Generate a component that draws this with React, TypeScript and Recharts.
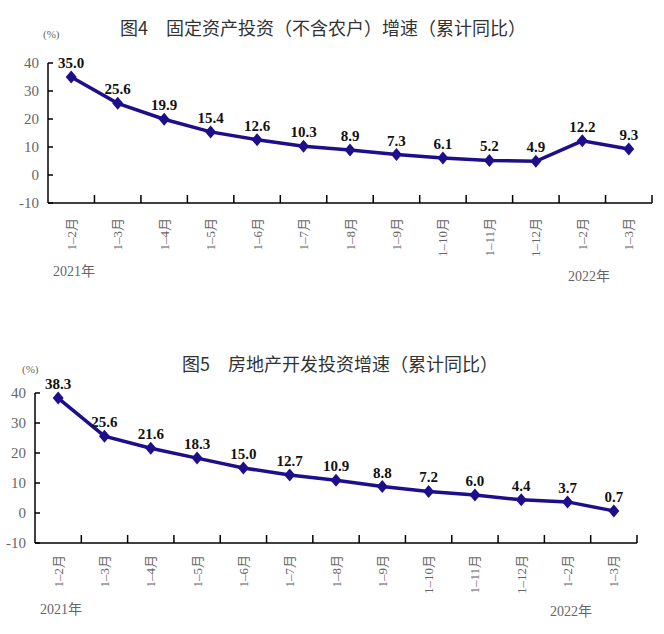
import React from 'react';
import { LineChart, Line, XAxis, YAxis, LabelList } from 'recharts';

// categories shared by both charts (2021 Jan-Feb .. 2022 Jan-Mar)
const categories = [
  '1–2月', '1–3月', '1–4月', '1–5月', '1–6月', '1–7月', '1–8月',
  '1–9月', '1–10月', '1–11月', '1–12月', '1–2月', '1–3月',
];
// 图4 固定资产投资（不含农户）增速
const fixedAssetGrowth = [35.0, 25.6, 19.9, 15.4, 12.6, 10.3, 8.9, 7.3, 6.1, 5.2, 4.9, 12.2, 9.3];
// 图5 房地产开发投资增速
const realEstateGrowth = [38.3, 25.6, 21.6, 18.3, 15.0, 12.7, 10.9, 8.8, 7.2, 6.0, 4.4, 3.7, 0.7];

const yTicks = [-10, 0, 10, 20, 30, 40];

const LINE_COLOR = '#1d0f8b';
const SERIF = "'Liberation Serif', 'Noto Sans CJK SC', serif";
const SANS = "'Noto Sans CJK SC', 'Noto Sans', sans-serif";
const GREY = '#666';
const CHART_W = 664;

const Diamond = (props: any) => {
  const { cx, cy } = props;
  if (cx == null || cy == null) return null;
  return (
    <polygon
      points={`${cx},${cy - 6.5} ${cx + 5.5},${cy} ${cx},${cy + 6.5} ${cx - 5.5},${cy}`}
      fill={LINE_COLOR}
    />
  );
};

// rotated month label + the small inward tick at the right edge of each band
const XTick = (props: any) => {
  const { x, y, payload, halfBand, axisY } = props;
  return (
    <g>
      <line x1={x + halfBand} x2={x + halfBand} y1={axisY} y2={axisY - 8} stroke="#000" strokeWidth={1.5} />
      <text
        x={x}
        y={y}
        transform={`rotate(-90, ${x}, ${y})`}
        textAnchor="end"
        dy="0.35em"
        fontSize={13}
        fontFamily={SERIF}
        fill={GREY}
      >
        {payload.value}
      </text>
    </g>
  );
};

// value label + short inward tick on the y axis
const YTick = (props: any) => {
  const { x, y, payload, margin } = props;
  return (
    <g>
      <line x1={x + margin} x2={x + margin + 5} y1={y} y2={y} stroke="#000" strokeWidth={1.5} />
      <text x={x} y={y} dy="0.35em" textAnchor="end" fontSize={15} fontFamily={SERIF} fill={GREY}>
        {payload.value}
      </text>
    </g>
  );
};

interface PanelProps {
  values: number[];
  top: number;
  left: number;
  right: number;
  labelGap: number;
  plotTop: number;
  plotBottom: number;
}

const Panel: React.FC<PanelProps> = ({ values, top, left, right, labelGap, plotTop, plotBottom }) => {
  const data = categories.map((c, i) => ({ label: c, value: values[i] }));
  const height = 290;
  const halfBand = (CHART_W - left - right) / categories.length / 2;
  return (
    <div style={{ position: 'absolute', top, left: 0 }}>
      <LineChart
        width={CHART_W}
        height={height}
        data={data}
        margin={{ top: plotTop, right, left: 0, bottom: 0 }}
      >
        <XAxis
          dataKey="label"
          padding={{ left: halfBand, right: halfBand }}
          axisLine={{ stroke: '#000', strokeWidth: 1.5 }}
          tickLine={false}
          tickSize={0}
          tickMargin={labelGap}
          interval={0}
          height={height - plotBottom}
          tick={<XTick halfBand={halfBand} axisY={plotBottom} />}
        />
        <YAxis
          domain={[-10, 40]}
          ticks={yTicks}
          width={left}
          axisLine={{ stroke: '#000', strokeWidth: 1.5 }}
          tickLine={false}
          tickSize={0}
          tickMargin={9}
          tick={<YTick margin={9} />}
        />
        <Line
          dataKey="value"
          stroke={LINE_COLOR}
          strokeWidth={3.5}
          dot={<Diamond />}
          activeDot={false}
          isAnimationActive={false}
        >
          <LabelList
            dataKey="value"
            position="top"
            offset={9}
            formatter={(v: any) => Number(v).toFixed(1)}
            style={{ fontSize: 15, fontWeight: 'bold', fontFamily: SERIF, fill: '#111' }}
          />
        </Line>
      </LineChart>
    </div>
  );
};

const abs = (x: number, y: number, extra: React.CSSProperties = {}): React.CSSProperties => ({
  position: 'absolute',
  left: x,
  top: y,
  whiteSpace: 'nowrap',
  lineHeight: 1,
  ...extra,
});

export default function App() {
  const pct = { fontSize: 11, fontFamily: SERIF, color: GREY };
  const title = { fontSize: 18, fontFamily: SANS, color: '#333' };
  const year = { fontSize: 14, fontFamily: SERIF, color: GREY };
  return (
    <div style={{ position: 'absolute', left: 0, top: 0, width: 664, height: 634, background: '#fff', overflow: 'hidden' }}>
      <div style={abs(120, 18, title)}>图4　固定资产投资（不含农户）增速（累计同比）</div>
      <div style={abs(43, 29, pct)}>(%)</div>
      <Panel values={fixedAssetGrowth} top={0} left={48} right={12} labelGap={15} plotTop={63} plotBottom={203} />
      <div style={abs(53, 265, year)}>2021年</div>
      <div style={abs(568, 270, year)}>2022年</div>

      <div style={abs(182, 354, title)}>图5　房地产开发投资增速（累计同比）</div>
      <div style={abs(22, 364, pct)}>(%)</div>
      <Panel values={realEstateGrowth} top={330} left={35} right={27} labelGap={12} plotTop={63} plotBottom={213} />
      <div style={abs(40, 603, year)}>2021年</div>
      <div style={abs(550, 605, year)}>2022年</div>
    </div>
  );
}
